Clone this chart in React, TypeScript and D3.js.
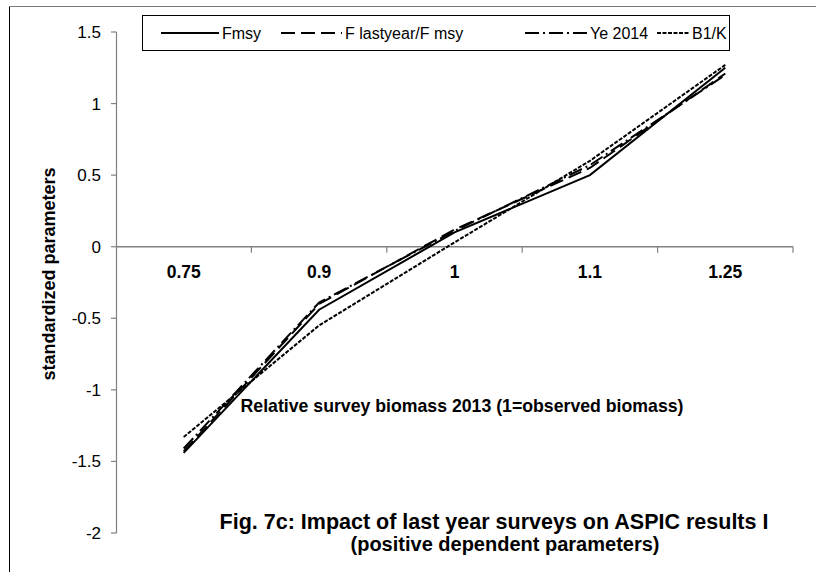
import React from "react";
import * as d3 from "d3";

const categories = ["0.75", "0.9", "1", "1.1", "1.25"];
const fmsy = [-1.44, -0.44, 0.1, 0.5, 1.25];
const fLastyear = [-1.43, -0.4, 0.12, 0.55, 1.21];
const ye2014 = [-1.41, -0.39, 0.11, 0.57, 1.2];
const b1k = [-1.33, -0.55, 0.03, 0.6, 1.27];
const yTicks = [1.5, 1, 0.5, 0, -0.5, -1, -1.5, -2];

const seriesNames = ["Fmsy", "F lastyear/F msy", "Ye 2014", "B1/K"];
const seriesData = [fmsy, fLastyear, ye2014, b1k];
const dashes = ["none", "14,6", "14,4,2,4", "4,1.5"];

export default function App() {
  const x = d3.scaleBand<string>().domain(categories).range([116, 793]).padding(0);
  const y = d3.scaleLinear().domain([-2, 1.5]).range([533, 32]);
  const line = d3
    .line<number>()
    .x((_, i) => (x(categories[i]) as number) + x.bandwidth() / 2)
    .y((d) => y(d));
  const y0 = y(0);
  const font = "Arial, 'Liberation Sans', sans-serif";
  const legendSamples = [
    { x1: 161, x2: 219, tx: 222 },
    { x1: 281, x2: 342, tx: 345 },
    { x1: 525, x2: 587, tx: 590 },
    { x1: 657, x2: 689, tx: 692 },
  ];
  return (
    <svg
      width={816}
      height={572}
      style={{ position: "absolute", left: 0, top: 0, background: "#fff" }}
      fontFamily={font}
    >
      <rect x={0} y={0} width={816} height={572} fill="#fff" />
      {/* outer frame */}
      <line x1={9.5} y1={6} x2={9.5} y2={572} stroke="#000" strokeWidth={1} />
      <line x1={9} y1={6.5} x2={816} y2={6.5} stroke="#777" strokeWidth={1} />
      {/* y axis */}
      <line x1={116.5} y1={y(1.5)} x2={116.5} y2={y(-2)} stroke="#808080" strokeWidth={1.2} />
      {yTicks.map((t) => (
        <g key={t}>
          <line x1={111} x2={116.5} y1={y(t)} y2={y(t)} stroke="#808080" strokeWidth={1.2} />
          <text x={101} y={y(t)} dy="0.35em" textAnchor="end" fontSize={17} fill="#000">
            {t}
          </text>
        </g>
      ))}
      {/* x axis */}
      <line x1={116} x2={793} y1={y0} y2={y0} stroke="#808080" strokeWidth={1.5} />
      {categories.map((c) => (
        <g key={c}>
          <line
            x1={(x(c) as number) + x.bandwidth()}
            x2={(x(c) as number) + x.bandwidth()}
            y1={y0}
            y2={y0 + 6}
            stroke="#808080"
            strokeWidth={1.2}
          />
          <text
            x={(x(c) as number) + x.bandwidth() / 2}
            y={y0 + 31}
            textAnchor="middle"
            fontSize={17.5}
            fontWeight="bold"
            fill="#000"
          >
            {c}
          </text>
        </g>
      ))}
      {/* series */}
      {seriesData.map((s, i) => (
        <path
          key={seriesNames[i]}
          d={line(s) as string}
          fill="none"
          stroke="#000"
          strokeWidth={2}
          strokeDasharray={dashes[i]}
        />
      ))}
      {/* axis titles */}
      <text
        transform={`translate(55,274) rotate(-90)`}
        textAnchor="middle"
        fontSize={18}
        fontWeight="bold"
        fill="#000"
      >
        standardized parameters
      </text>
      <text x={462} y={412} textAnchor="middle" fontSize={17.7} fontWeight="bold" fill="#000">
        Relative survey biomass 2013 (1=observed biomass)
      </text>
      <text x={494} y={529} textAnchor="middle" fontSize={21.5} fontWeight="bold" fill="#000">
        Fig. 7c: Impact of last year surveys on ASPIC results I
      </text>
      <text x={505} y={551} textAnchor="middle" fontSize={20} fontWeight="bold" fill="#000">
        (positive dependent parameters)
      </text>
      {/* legend */}
      <rect x={142.5} y={15.5} width={587} height={35} fill="#fff" stroke="#000" strokeWidth={1} />
      {legendSamples.map((l, i) => (
        <g key={seriesNames[i]}>
          <line
            x1={l.x1}
            x2={l.x2}
            y1={33}
            y2={33}
            stroke="#000"
            strokeWidth={2}
            strokeDasharray={dashes[i]}
          />
          <text x={l.tx} y={33} dy="0.35em" fontSize={16} fill="#000">
            {seriesNames[i]}
          </text>
        </g>
      ))}
    </svg>
  );
}
